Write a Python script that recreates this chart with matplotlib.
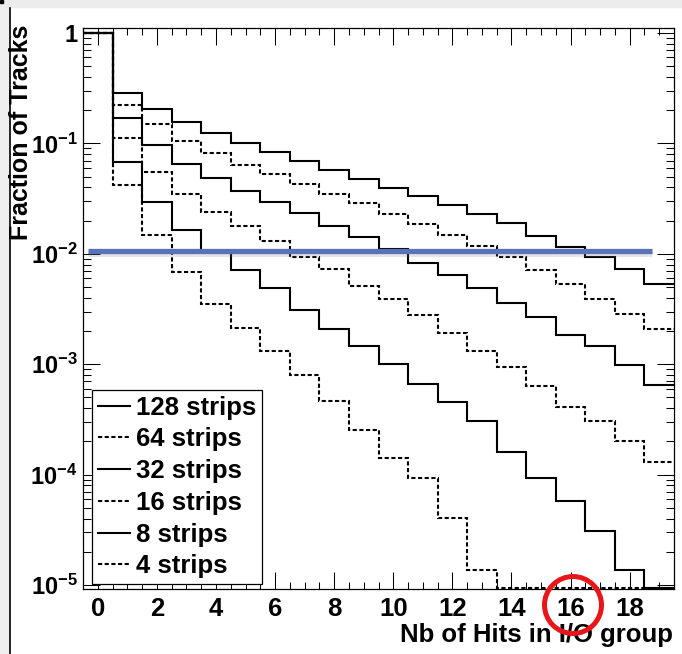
import numpy as np
import matplotlib
matplotlib.use("Agg")
import matplotlib.pyplot as plt
from matplotlib.patches import Rectangle, Ellipse
from matplotlib.lines import Line2D
from matplotlib.ticker import FixedLocator, FixedFormatter, LogLocator, NullFormatter, MultipleLocator
import matplotlib.patheffects as pe

plt.rcParams['font.family'] = ['Liberation Sans', 'DejaVu Sans']
plt.rcParams['font.weight'] = 'bold'
plt.rcParams['mathtext.fontset'] = 'custom'
plt.rcParams['mathtext.rm'] = 'Liberation Sans:bold'
plt.rcParams['mathtext.bf'] = 'Liberation Sans:bold'
plt.rcParams['mathtext.default'] = 'rm'

# number of hits (bin centres 0..19)
hits = np.arange(20)

# fraction of tracks per readout grouping
frac_128 = [1.0, 0.287, 0.207, 0.156, 0.124, 0.101, 0.0834, 0.069, 0.0569, 0.0478,
            0.0396, 0.0334, 0.0279, 0.023, 0.0189, 0.0146, 0.0116, 0.0094, 0.00726, 0.00537]
frac_64 = [1.0, 0.225, 0.149, 0.106, 0.0817, 0.0644, 0.0523, 0.043, 0.0349, 0.0287,
           0.023, 0.0186, 0.0148, 0.0118, 0.0094, 0.0071, 0.0053, 0.00392, 0.00287, 0.00207]
frac_32 = [1.0, 0.17, 0.096, 0.0654, 0.0488, 0.0374, 0.0293, 0.0233, 0.0179, 0.0141,
           0.011, 0.00834, 0.00644, 0.00488, 0.00361, 0.00267, 0.00182, 0.00146, 0.00099, 0.00065]
frac_16 = [1.0, 0.112, 0.0548, 0.0349, 0.0237, 0.018, 0.0131, 0.0094, 0.00726, 0.00512,
           0.00387, 0.00279, 0.00193, 0.00133, 0.00094, 0.00063, 0.000406, 0.000308, 0.0002, 0.000129]
frac_8 = [1.0, 0.0676, 0.0293, 0.0164, 0.0107, 0.0071, 0.00488, 0.00308, 0.00207, 0.00146,
          0.00101, 0.000662, 0.000455, 0.000308, 0.00016, 9.27e-5, 5.77e-5, 3.08e-5, 1.36e-5, 0.0]
frac_4 = [1.0, 0.042, 0.0148, 0.0069, 0.00354, 0.00214, 0.00133, 0.000805, 0.000461, 0.000255,
          0.000141, 9.27e-5, 4.06e-5, 1.36e-5, 0.0, 0.0, 0.0, 0.0, 0.0, 0.0]

series = [("128 strips", frac_128, "-"), ("64 strips", frac_64, "--"),
          ("32 strips", frac_32, "-"), ("16 strips", frac_16, "--"),
          ("8 strips", frac_8, "-"), ("4 strips", frac_4, "--")]

threshold = 0.0105
ymin, ymax = 9.2e-6, 1.11

W, H = 682, 654
fig = plt.figure(figsize=(W / 100, H / 100), dpi=100)

# screenshot frame
fig.patches.append(Rectangle((0, 0), 9 / W, 1, transform=fig.transFigure, color='#efefef', zorder=0))
fig.patches.append(Rectangle((0, 1 - 7 / H), 1, 7 / H, transform=fig.transFigure, color='#ececec', zorder=0))
fig.lines.append(Line2D([9.5 / W, 9.5 / W], [0, 1 - 8 / H], transform=fig.transFigure, color='black', lw=1.2))
fig.patches.append(Rectangle((0, 1 - 3 / H), 3 / W, 3 / H, transform=fig.transFigure, color='black'))

ax = fig.add_axes([83 / W, 1 - 589 / H, 591 / W, 561 / H])

edges = np.arange(-0.5, 20.0, 1.0)
for label, vals, ls in series:
    v = np.array(vals, dtype=float)
    v = np.where(v > 0, v, ymin * 1.03)
    style = '-' if ls == '-' else (0, (2.0, 1.2))
    ax.stairs(v, edges, baseline=None, color='black', lw=1.5, linestyle=style, label=label)

ax.plot([-0.34, 18.74], [threshold, threshold], color='#5a72b8', lw=3.8, solid_capstyle='butt',
        path_effects=[pe.SimpleLineShadow(offset=(0, -2), alpha=0.2, shadow_color='gray'), pe.Normal()])

ax.set_yscale('log')
ax.set_xlim(-0.5, 19.5)
ax.set_ylim(ymin, ymax)

decades = [1e-5, 1e-4, 1e-3, 1e-2, 1e-1, 1]
ax.yaxis.set_major_locator(FixedLocator(decades))
ax.yaxis.set_major_formatter(FixedFormatter([r'$10^{-5}$', r'$10^{-4}$', r'$10^{-3}$',
                                             r'$10^{-2}$', r'$10^{-1}$', '1']))
ax.yaxis.set_minor_locator(LogLocator(base=10, subs=np.arange(2, 10), numticks=20))
ax.yaxis.set_minor_formatter(NullFormatter())
ax.xaxis.set_major_locator(MultipleLocator(2))
ax.xaxis.set_minor_locator(MultipleLocator(0.5))

ax.tick_params(which='both', direction='in', top=True, right=True, width=0.75)
ax.tick_params(axis='x', which='major', length=12, pad=6, labelsize=18.5)
ax.tick_params(axis='x', which='minor', length=5)
ax.tick_params(axis='y', which='major', length=12, pad=4, labelsize=17)
ax.tick_params(axis='y', which='minor', length=6)
for s in ax.spines.values():
    s.set_linewidth(0.9)

leg = ax.legend(loc='lower left', bbox_to_anchor=(0.015, 0.009), borderaxespad=0,
                fontsize=18.5, frameon=True, fancybox=False, edgecolor='black',
                handlelength=1.25, handletextpad=0.25, labelspacing=0.3, borderpad=0.22)
leg.get_frame().set_linewidth(0.9)
leg.get_frame().set_alpha(1)

fig.text(21 / W, 1 - 25 / H, 'Fraction of Tracks', rotation=90, ha='center', va='top',
         fontsize=18, fontweight='bold')
fig.text(673 / W, 1 - 635 / H, 'Nb of Hits in I/O group', ha='right', va='center',
         fontsize=18.5, fontweight='bold')

fig.patches.append(Ellipse((573 / W, 1 - 605 / H), 57 / W, 57 / H, transform=fig.transFigure,
                           fill=False, ec='#e8161b', lw=3.6, zorder=10))

fig.savefig('out.png', dpi=100)
